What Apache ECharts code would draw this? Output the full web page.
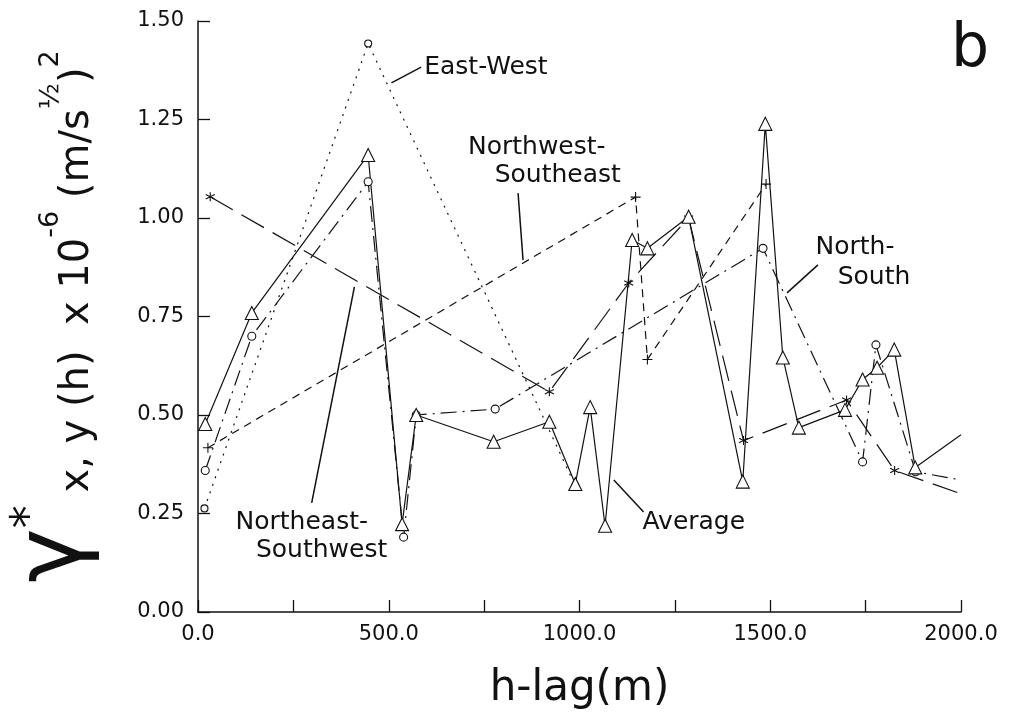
<!DOCTYPE html>
<html>
<head>
<meta charset="utf-8">
<script src="https://cdn.jsdelivr.net/npm/echarts@6/dist/echarts.min.js"></script>
<style>
  html, body { margin: 0; padding: 0; background: #fff; }
  #main { width: 1029px; height: 727px; }
</style>
</head>
<body>
<div id="main"></div>
<script>
// lag (m) and semivariogram values
var avgLag = [19, 141, 446, 535, 572, 775, 921, 989, 1028, 1067, 1138, 1178, 1286, 1428, 1487, 1533, 1575, 1696, 1742, 1780, 1825, 1880, 2000];
var avgVal = [0.477, 0.759, 1.16, 0.223, 0.50, 0.432, 0.483, 0.325, 0.52, 0.219, 0.944, 0.923, 1.003, 0.331, 1.239, 0.646, 0.468, 0.513, 0.59, 0.62, 0.666, 0.367, 0.45];

var ewLag = [17, 446, 989];
var ewVal = [0.263, 1.443, 0.32];

var nwLag = [26, 1147, 1178, 1489];
var nwVal = [0.417, 1.053, 0.641, 1.086];

var nsLag = [19, 141, 446, 539, 572, 779, 1481, 1742, 1777, 1881, 2000];
var nsVal = [0.359, 0.70, 1.092, 0.19, 0.50, 0.515, 0.923, 0.381, 0.678, 0.356, 0.335];

var neLag = [32, 921, 1129, 1286, 1430, 1700, 1826, 2000];
var neVal = [1.054, 0.559, 0.835, 1.0, 0.435, 0.538, 0.359, 0.30];

var xTicks = [0, 500, 1000, 1500, 2000];

// labels and pointer lines, in data units
var notes = [
    {text: 'East-West', at: [593, 1.381], align: 'left'},
    {text: 'Northwest-', at: [888, 1.180]},
    {text: 'Southeast', at: [943, 1.109]},
    {text: 'North-', at: [1722, 0.924]},
    {text: 'South', at: [1772, 0.850]},
    {text: 'Northeast-', at: [272, 0.226]},
    {text: 'Southwest', at: [324, 0.157]},
    {text: 'Average', at: [1165, 0.226], align: 'left'}
];
var leaders = [
    [[507, 1.343], [585, 1.383]],
    [[839, 1.063], [852, 0.893]],
    [[1625, 0.881], [1544, 0.810]],
    [[298, 0.277], [410, 0.825]],
    [[1090, 0.335], [1168, 0.254]]
];

var FONT = 'DejaVu Sans';
var INK = '#111';

function pairs(xs, ys) {
    return xs.map(function (x, i) {
        var item = {value: [x, ys[i]]};
        if (x >= 2000) item.symbol = 'none';
        return item;
    });
}

function series(name, xs, ys, dash, symbol, size, fill) {
    return {
        name: name,
        type: 'line',
        data: pairs(xs, ys),
        symbol: symbol,
        symbolSize: size,
        showAllSymbol: true,
        animation: false,
        lineStyle: {color: INK, width: 1.2, type: dash},
        itemStyle: {color: fill, borderColor: INK, borderWidth: 1.1}
    };
}

var plusPath = 'path://M5,0L5,10M0,5L10,5';
var starPath = 'path://M5,0L5,10M0.7,2.5L9.3,7.5M0.7,7.5L9.3,2.5';

var chart = echarts.init(document.getElementById('main'), null, {renderer: 'canvas'});

chart.setOption({
    backgroundColor: '#fff',
    animation: false,
    grid: {left: 196, right: 68, top: 21, bottom: 115},
    xAxis: {
        type: 'value',
        min: 0,
        max: 2000,
        interval: 250,
        name: 'h-lag(m)',
        nameLocation: 'middle',
        nameGap: 56,
        nameTextStyle: {fontFamily: FONT, fontSize: 42, color: INK},
        axisLine: {lineStyle: {color: INK, width: 1.5}},
        axisTick: {inside: true, length: 12, lineStyle: {color: INK, width: 1.3}},
        splitLine: {show: false},
        axisLabel: {
            fontFamily: FONT, fontSize: 21, color: INK, margin: 12,
            showMaxLabel: true,
            formatter: function (v) {
                return xTicks.indexOf(v) >= 0 ? v.toFixed(1) : '';
            }
        }
    },
    yAxis: {
        type: 'value',
        min: 0,
        max: 1.5,
        interval: 0.25,
        name: '{g|γ}{st|*}{m| x, y (h)  x 10}{sp|-6}{m| (m/s}{sp|½}{m|)}{sp|2}',
        nameLocation: 'middle',
        nameRotate: 90,
        nameGap: 96,
        nameTextStyle: {
            fontFamily: FONT, color: INK,
            rich: {
                g: {fontFamily: FONT, fontSize: 92, color: INK, verticalAlign: 'bottom', lineHeight: 104},
                st: {fontFamily: FONT, fontSize: 46, color: INK, verticalAlign: 'bottom', padding: [0, 0, 48, 0]},
                m: {fontFamily: FONT, fontSize: 40, color: INK, verticalAlign: 'bottom', padding: [0, 0, 4, 0]},
                sp: {fontFamily: FONT, fontSize: 27, color: INK, verticalAlign: 'bottom', padding: [0, 0, 38, 0]}
            }
        },
        axisLine: {show: true, lineStyle: {color: INK, width: 1.5}},
        axisTick: {show: true, inside: true, length: 12, lineStyle: {color: INK, width: 1.3}},
        splitLine: {show: false},
        axisLabel: {
            fontFamily: FONT, fontSize: 21, color: INK, margin: 14,
            formatter: function (v) { return v.toFixed(2); }
        }
    },
    series: [
        series('East-West', ewLag, ewVal, [2, 6], 'circle', 7, '#fff'),
        series('Northwest-Southeast', nwLag, nwVal, [8, 6], plusPath, 10, 'none'),
        series('North-South', nsLag, nsVal, [16, 6, 2, 6], 'circle', 8, '#fff'),
        series('Northeast-Southwest', neLag, neVal, [26, 10], starPath, 9, 'none'),
        series('Average', avgLag, avgVal, 'solid', 'triangle', 13, '#fff')
    ]
});

var gfx = [];
notes.forEach(function (n) {
    var p = chart.convertToPixel({gridIndex: 0}, n.at);
    gfx.push({
        type: 'text',
        x: p[0], y: p[1], z: 100,
        style: {
            text: n.text, fill: INK, font: '25px "' + FONT + '"',
            textAlign: n.align || 'center', textVerticalAlign: 'middle',
            align: n.align || 'center', verticalAlign: 'middle'
        }
    });
});
leaders.forEach(function (l) {
    var a = chart.convertToPixel({gridIndex: 0}, l[0]);
    var b = chart.convertToPixel({gridIndex: 0}, l[1]);
    gfx.push({
        type: 'line', z: 100,
        shape: {x1: a[0], y1: a[1], x2: b[0], y2: b[1]},
        style: {stroke: INK, lineWidth: 1.5}
    });
});
gfx.push({
    type: 'text', right: 40, top: 20, z: 100,
    style: {text: 'b', fill: INK, font: '60px "' + FONT + '"'}
});
chart.setOption({graphic: gfx});
</script>
</body>
</html>
